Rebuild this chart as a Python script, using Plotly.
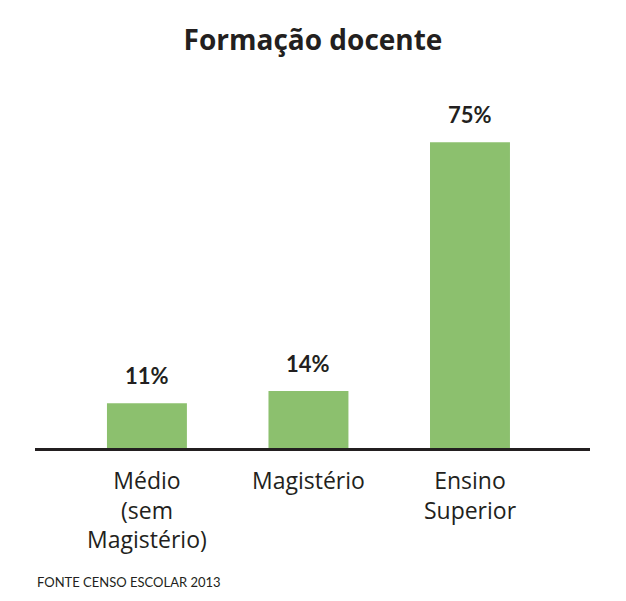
import plotly.graph_objects as go

categories = ["Médio<br>(sem<br>Magistério)", "Magistério", "Ensino<br>Superior"]
values = [11, 14, 75]
labels = ["11%", "14%", "75%"]

INK = "#231f20"
GREEN = "#8cc06e"

# the page body adds an 8px offset, so positions below are shifted by 8
OFF = 8
W, H = 626, 601
PLOT_TOP = 81 - OFF
BASE = 448 - OFF

fig = go.Figure(
    go.Bar(
        x=categories,
        y=values,
        marker=dict(color=GREEN, line=dict(width=0)),
        width=0.495,
        hoverinfo="skip",
    )
)

# value labels above the bars
for c, v, t in zip(categories, values, labels):
    fig.add_annotation(
        x=c, y=v, text="<b>" + t + "</b>", showarrow=False,
        yanchor="bottom", yshift=12,
        font=dict(family="Lato", size=22, color=INK),
    )

fig.add_annotation(
    x=0, xref="paper", xanchor="left",
    y=-(582 - 448) / (BASE - PLOT_TOP), yref="paper", yanchor="middle",
    text="FONTE CENSO ESCOLAR 2013", showarrow=False,
    font=dict(family="Lato", size=13, color=INK),
)

fig.update_layout(
    width=W,
    height=H,
    margin=dict(l=35 - OFF, r=W - (590 - OFF), t=PLOT_TOP, b=H - BASE),
    paper_bgcolor="white",
    plot_bgcolor="white",
    showlegend=False,
    title=dict(
        text="<b>Formação docente</b>",
        x=(313 - OFF) / W, xanchor="center",
        y=1 - (40 - OFF) / H, yanchor="middle",
        font=dict(family="Open Sans", size=28, color=INK),
    ),
    xaxis=dict(
        range=[-0.693, 2.743],
        showline=True, linecolor=INK, linewidth=3,
        ticks="outside", ticklen=10, tickcolor="rgba(0,0,0,0)",
        tickfont=dict(family="Open Sans", size=23, color=INK),
        showgrid=False, zeroline=False,
    ),
    yaxis=dict(
        range=[0, 90],
        visible=False,
        showgrid=False, zeroline=False,
    ),
)

fig.write_html("out.html")
